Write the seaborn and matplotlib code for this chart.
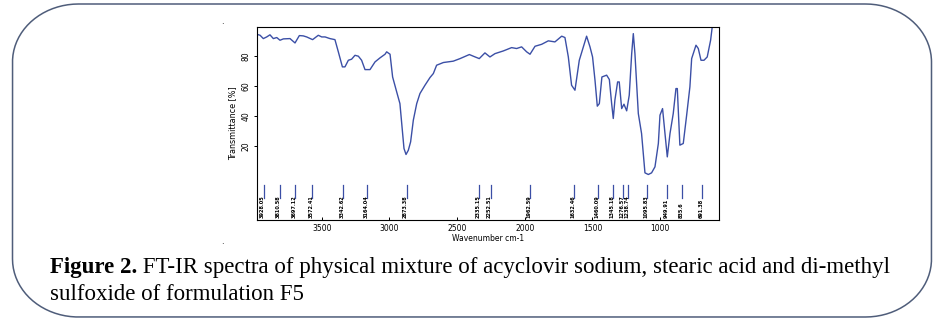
import matplotlib
matplotlib.use("Agg")
import matplotlib.pyplot as plt
import seaborn as sns
import pandas as pd
import numpy as np
from matplotlib.path import Path
from matplotlib.patches import PathPatch

# ---- data ----
wavenumber = [3980, 3955, 3931, 3906, 3882, 3857, 3832, 3808, 3783, 3734, 3697, 3665,
              3636, 3611, 3567, 3525, 3500, 3475, 3439, 3402, 3377, 3347, 3328, 3303,
              3279, 3254, 3229, 3205, 3180, 3143, 3106, 3069, 3032, 3020, 2995, 2976,
              2946, 2922, 2902, 2892, 2877, 2860, 2843, 2823, 2798, 2774, 2737, 2700,
              2675, 2651, 2601, 2528, 2478, 2409, 2380, 2336, 2294, 2257, 2220, 2158,
              2097, 2060, 2023, 1986, 1961, 1924, 1875, 1826, 1777, 1727, 1703, 1678,
              1654, 1629, 1597, 1567, 1543, 1518, 1499, 1481, 1464, 1449, 1430, 1395,
              1375, 1358, 1346, 1334, 1314, 1302, 1284, 1267, 1247, 1228, 1210, 1198,
              1186, 1161, 1137, 1112, 1087, 1063, 1038, 1013, 1001, 982, 964, 947,
              927, 903, 883, 873, 854, 829, 804, 780, 767, 735, 718, 698, 676, 652,
              627, 615, 600]
transmittance = [94.4, 93.7, 91.5, 92.6, 94.0, 91.5, 92.2, 90.4, 91.3, 91.5, 88.6, 93.5,
                 93.3, 92.6, 90.8, 93.7, 92.6, 92.6, 91.5, 90.8, 82.7, 72.7, 72.7, 77.1,
                 77.8, 80.4, 79.8, 77.1, 70.9, 70.9, 76.0, 78.7, 81.1, 82.7, 81.1, 66.0,
                 56.1, 48.3, 28.4, 18.5, 14.5, 17.3, 22.9, 37.3, 48.3, 55.0, 60.5, 65.6,
                 68.3, 73.8, 75.6, 76.5, 78.2, 80.9, 79.8, 78.2, 82.0, 79.3, 81.5, 83.3,
                 85.5, 84.9, 86.0, 82.7, 81.1, 86.4, 87.7, 90.0, 89.3, 93.1, 92.2, 79.3,
                 60.5, 57.2, 77.1, 86.0, 93.1, 86.0, 79.3, 63.8, 46.6, 48.3, 66.0, 67.2,
                 64.3, 48.3, 38.4, 50.6, 62.7, 62.7, 45.0, 47.9, 43.5, 53.9, 81.5, 94.8,
                 81.5, 41.7, 28.4, 2.3, 1.2, 2.3, 6.3, 21.8, 40.6, 45.0, 28.4, 12.9,
                 28.4, 41.7, 58.3, 58.3, 20.7, 21.8, 40.6, 59.4, 78.2, 87.1, 84.9, 77.1,
                 77.1, 79.3, 90.4, 99.3, 104.0]

peak_positions = [3928.05, 3810.58, 3697.12, 3572.41, 3342.62, 3164.04, 2873.38,
                  2335.15, 2252.51, 1962.59, 1632.46, 1460.09, 1345.18, 1276.57,
                  1238.74, 1095.83, 949.91, 835.6, 691.38]
peak_labels = ["3928.05", "3810.58", "3697.12", "3572.41", "3342.62", "3164.04",
               "2873.38", "2335.15", "2252.51", "1962.59", "1632.46", "1460.09",
               "1345.18", "1276.57", "1238.74", "1095.83", "949.91", "835.6", "691.38"]

x_ticks = [3500, 3000, 2500, 2000, 1500, 1000]
y_ticks = [20, 40, 60, 80]

caption_bold = "Figure 2."
caption_line1 = " FT-IR spectra of physical mixture of acyclovir sodium, stearic acid and di-methyl"
caption_line2 = "sulfoxide of formulation F5"

# ---- figure ----
W, H = 947, 333
fig = plt.figure(figsize=(W / 100, H / 100), dpi=100)
fig.patch.set_facecolor("white")

# background frame axis (pixel coordinates)
bg = fig.add_axes([0, 0, 1, 1])
bg.set_xlim(0, W)
bg.set_ylim(H, 0)
bg.axis("off")


def rounded_frame(x0, y0, x1, y1, rx, ry, n=40):
    pts = []
    t = np.linspace(0, np.pi / 2, n)
    # top-right corner
    cx, cy = x1 - rx, y0 + ry
    pts += list(zip(cx + rx * np.sin(t), cy - ry * np.cos(t)))
    # bottom-right
    cx, cy = x1 - rx, y1 - ry
    pts += list(zip(cx + rx * np.cos(t), cy + ry * np.sin(t)))
    # bottom-left
    cx, cy = x0 + rx, y1 - ry
    pts += list(zip(cx - rx * np.sin(t), cy + ry * np.cos(t)))
    # top-left
    cx, cy = x0 + rx, y0 + ry
    pts += list(zip(cx - rx * np.cos(t), cy - ry * np.sin(t)))
    pts.append(pts[0])
    return Path(pts)


frame = PathPatch(rounded_frame(12.5, 4, 931.5, 317, 66, 58), fill=False,
                  edgecolor="#4f5d7a", linewidth=1.1)
bg.add_patch(frame)
bg.text(222, 21, ".", fontsize=6, ha="center", va="center", color="black")
bg.text(222, 241, ".", fontsize=6, ha="center", va="center", color="black")

line_color = "#3b4fa6"
ax = fig.add_axes([256.7 / W, 1 - 219.5 / H, (719 - 256.7) / W, (219.5 - 27.3) / H])
df = pd.DataFrame({"wn": wavenumber, "T": transmittance})
sns.lineplot(data=df, x="wn", y="T", ax=ax, color=line_color, linewidth=1.0,
             sort=False, estimator=None)
ax.set_xlim(3980, 565)
ax.set_ylim(-28.7, 99)

for p, lab in zip(peak_positions, peak_labels):
    ax.plot([p, p], [-5.9, -14.6], color=line_color, linewidth=0.9)
    ax.text(p + 8, -28.0, lab, rotation=90, ha="center", va="bottom",
            fontsize=3.6, fontweight="bold", color="black")

ax.set_xticks(x_ticks)
ax.set_xticklabels([str(v) for v in x_ticks])
ax.set_yticks(y_ticks)
ax.set_yticklabels([str(v) for v in y_ticks], rotation=90, va="center")
ax.tick_params(axis="x", direction="in", length=2.5, width=0.7, labelsize=5.5, pad=3)
ax.tick_params(axis="y", direction="out", length=2.5, width=0.7, labelsize=5.5, pad=2)
ax.set_xlabel("Wavenumber cm-1", fontsize=5.5, labelpad=1)
ax.set_ylabel("Transmittance [%]", fontsize=5.8, labelpad=3)
for s in ax.spines.values():
    s.set_linewidth(0.8)
    s.set_color("black")

# caption
serif = ["Liberation Serif", "DejaVu Serif"]
fs = 16.5
t1 = fig.text(50 / W, 1 - 273 / H, caption_bold, fontsize=fs, fontweight="bold",
              family=serif, ha="left", va="baseline")
fig.canvas.draw()
r = fig.canvas.get_renderer()
bb = t1.get_window_extent(renderer=r)
fig.text(bb.x1 / W, 1 - 273 / H, caption_line1, fontsize=fs, family=serif,
         ha="left", va="baseline")
fig.text(50 / W, 1 - 300 / H, caption_line2, fontsize=fs, family=serif,
         ha="left", va="baseline")

fig.savefig("out.png", dpi=100)
